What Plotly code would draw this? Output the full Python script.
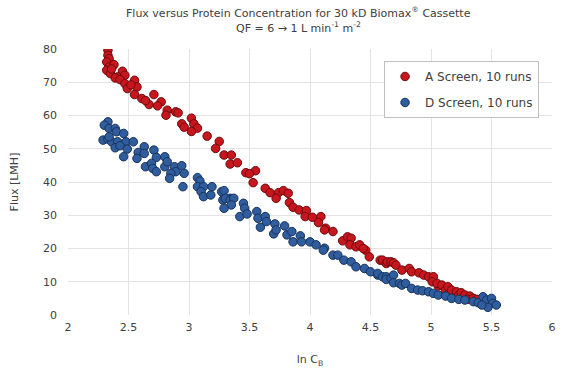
import plotly.graph_objects as go

a_x = [2.33, 2.33, 2.34, 2.32, 2.34, 2.32, 2.38, 2.35, 2.45, 2.41, 2.47, 2.39, 2.36, 2.43,
       2.55, 2.47, 2.49, 2.57, 2.52, 2.55, 2.61, 2.71, 2.67, 2.77, 2.74, 2.64, 2.82, 2.81,
       2.89, 2.91, 3.02, 2.94, 2.96, 3.04, 3.07, 3.02, 3.15, 3.25, 3.22, 3.29, 3.35, 3.34,
       3.40, 3.47, 3.55, 3.50, 3.53, 3.63, 3.67, 3.74, 3.72, 3.78, 3.82, 3.83, 3.86, 3.91,
       3.97, 3.96, 4.02, 4.09, 4.07, 4.13, 4.19, 4.12, 4.27, 4.31, 4.34, 4.33, 4.38, 4.41,
       4.46, 4.49, 4.44, 4.58, 4.60, 4.63, 4.64, 4.67, 4.69, 4.71, 4.76, 4.82, 4.84, 4.90,
       4.94, 4.98, 5.02, 5.01, 5.06, 5.05, 5.09, 5.12, 5.14, 5.17, 5.21, 5.23, 5.25, 5.28,
       5.32, 5.30, 5.35, 5.38]
a_y = [79.6, 78.1, 77.1, 76.1, 74.6, 73.6, 75.3, 72.6, 73.3, 71.6, 72.1, 71.3, 74.0, 70.8,
       70.6, 69.6, 68.1, 68.6, 69.2, 66.3, 65.1, 66.3, 63.3, 64.1, 62.9, 64.5, 61.6, 60.1,
       61.1, 60.8, 59.2, 57.5, 56.5, 57.5, 56.2, 55.2, 53.8, 52.2, 50.1, 48.1, 48.1, 45.4,
       45.8, 42.8, 43.4, 42.5, 39.8, 38.1, 36.8, 36.8, 35.1, 37.4, 36.6, 33.8, 32.4, 31.6,
       31.4, 29.6, 29.4, 29.6, 27.8, 26.1, 25.1, 25.6, 22.3, 23.5, 23.1, 21.1, 20.5, 21.1,
       19.5, 17.5, 20.0, 16.5, 16.5, 15.5, 16.0, 16.0, 15.7, 15.0, 13.5, 14.0, 13.0, 12.7,
       12.0, 11.5, 11.5, 10.0, 8.7, 9.5, 9.0, 7.5, 8.5, 7.5, 7.0, 6.0, 6.7, 6.0,
       5.7, 4.7, 5.0, 4.7]

d_x = [2.33, 2.30, 2.34, 2.39, 2.40, 2.46, 2.29, 2.33, 2.36, 2.34, 2.41, 2.48, 2.54, 2.39,
       2.43, 2.49, 2.46, 2.58, 2.57, 2.63, 2.63, 2.71, 2.73, 2.80, 2.64, 2.69, 2.70, 2.73,
       2.80, 2.82, 2.88, 2.89, 2.94, 2.96, 2.85, 2.84, 2.95, 3.07, 3.09, 3.07, 3.12, 3.19,
       3.10, 3.12, 3.18, 3.27, 3.28, 3.34, 3.29, 3.30, 3.34, 3.37, 3.35, 3.29, 3.42, 3.45,
       3.46, 3.48, 3.56, 3.57, 3.59, 3.63, 3.64, 3.71, 3.70, 3.72, 3.79, 3.81, 3.85, 3.86,
       3.92, 3.93, 4.00, 4.05, 4.12, 4.11, 4.19, 4.23, 4.28, 4.34, 4.38, 4.45, 4.50, 4.56,
       4.56, 4.60, 4.63, 4.63, 4.67, 4.69, 4.69, 4.74, 4.76, 4.79, 4.84, 4.89, 4.93, 4.98,
       5.02, 5.06, 5.12, 5.17, 5.23, 5.28, 5.35, 5.39, 5.43, 5.46, 5.50, 5.51, 5.54, 5.47,
       5.42]
d_y = [58.1, 57.1, 56.1, 56.1, 55.1, 54.6, 52.6, 52.9, 52.1, 53.6, 52.1, 52.1, 52.1, 50.3,
       50.9, 49.9, 47.6, 48.9, 47.1, 50.6, 48.6, 49.6, 47.4, 47.6, 44.6, 45.6, 44.1, 43.1,
       44.6, 46.1, 44.6, 43.1, 44.9, 42.6, 42.6, 41.1, 38.6, 41.3, 40.3, 38.6, 38.6, 38.6,
       37.1, 35.6, 36.1, 37.1, 34.6, 35.1, 37.4, 35.1, 34.6, 35.1, 33.1, 32.1, 29.6, 33.6,
       32.1, 30.4, 31.1, 29.1, 26.4, 29.6, 28.1, 27.4, 24.4, 25.6, 26.8, 24.1, 25.1, 22.0,
       23.8, 22.0, 22.0, 21.1, 20.1, 19.5, 18.0, 18.0, 16.5, 16.0, 14.5, 14.0, 13.0, 12.0,
       12.5, 11.5, 11.5, 10.7, 11.0, 12.0, 9.7, 9.5, 9.0, 9.5, 8.0, 7.5, 7.3, 7.0,
       6.5, 6.0, 5.7, 5.0, 4.7, 4.5, 4.0, 3.7, 5.5, 4.5, 5.0, 3.5, 3.0, 2.3,
       3.0]

x_ticks = [2, 2.5, 3, 3.5, 4, 4.5, 5, 5.5, 6]
x_tick_labels = ["2", "2.5", "3", "3.5", "4", "4.5", "5", "5.5", "6"]
y_ticks = [0, 10, 20, 30, 40, 50, 60, 70, 80]
title_line1 = "Flux versus Protein Concentration for 30 kD Biomax<sup>®</sup> Cassette"
title_line2 = "QF = 6 → 1 L min<sup>-1</sup> m<sup>-2</sup>"

FONT = "DejaVu Sans, Verdana, sans-serif"
TXT = "#404040"

fig = go.Figure()
fig.add_trace(go.Scatter(
    x=a_x, y=a_y, mode="markers", name="A Screen, 10 runs", legendgroup="a",
    marker=dict(size=8.5, color="#c8161e", line=dict(color="#6e0a0c", width=1)),
))
fig.add_trace(go.Scatter(
    x=d_x, y=d_y, mode="markers", name="D Screen, 10 runs", legendgroup="d",
    marker=dict(size=8.5, color="#2f5d9e", line=dict(color="#17325c", width=1)),
))

fig.add_annotation(text=title_line1, xref="paper", yref="paper", x=0.477, y=1.139,
                   xanchor="center", yanchor="middle", showarrow=False,
                   font=dict(family=FONT, size=11, color=TXT))
fig.add_annotation(text=title_line2, xref="paper", yref="paper", x=0.477, y=1.081,
                   xanchor="center", yanchor="middle", showarrow=False,
                   font=dict(family=FONT, size=11, color=TXT))

fig.update_layout(
    width=561, height=378,
    margin=dict(l=68, r=5, t=49, b=63),
    paper_bgcolor="white", plot_bgcolor="white",
    font=dict(family=FONT, size=11, color=TXT),
    showlegend=True,
    legend=dict(
        x=0.653, y=0.955, xanchor="left", yanchor="top",
        bgcolor="white", bordercolor="#bfbfbf", borderwidth=1,
        font=dict(family=FONT, size=12, color=TXT),
        tracegroupgap=7, itemwidth=30,
    ),
    xaxis=dict(
        range=[2, 6], tickvals=x_ticks, ticktext=x_tick_labels,
        showgrid=True, gridcolor="#e3e3e3", gridwidth=1,
        zeroline=False, showline=False, ticks="", ticklabelstandoff=4,
        tickfont=dict(family=FONT, size=11, color=TXT),
        title=dict(text="ln C<sub>B</sub>", standoff=22,
                   font=dict(family=FONT, size=11, color=TXT)),
    ),
    yaxis=dict(
        range=[0, 80], tickvals=y_ticks,
        showgrid=True, gridcolor="#e3e3e3", gridwidth=1,
        zeroline=False, showline=False, ticks="", ticklabelstandoff=10,
        tickfont=dict(family=FONT, size=11, color=TXT),
        title=dict(text="Flux [LMH]", standoff=22,
                   font=dict(family=FONT, size=11, color=TXT)),
    ),
)

fig.write_html("out.html")
